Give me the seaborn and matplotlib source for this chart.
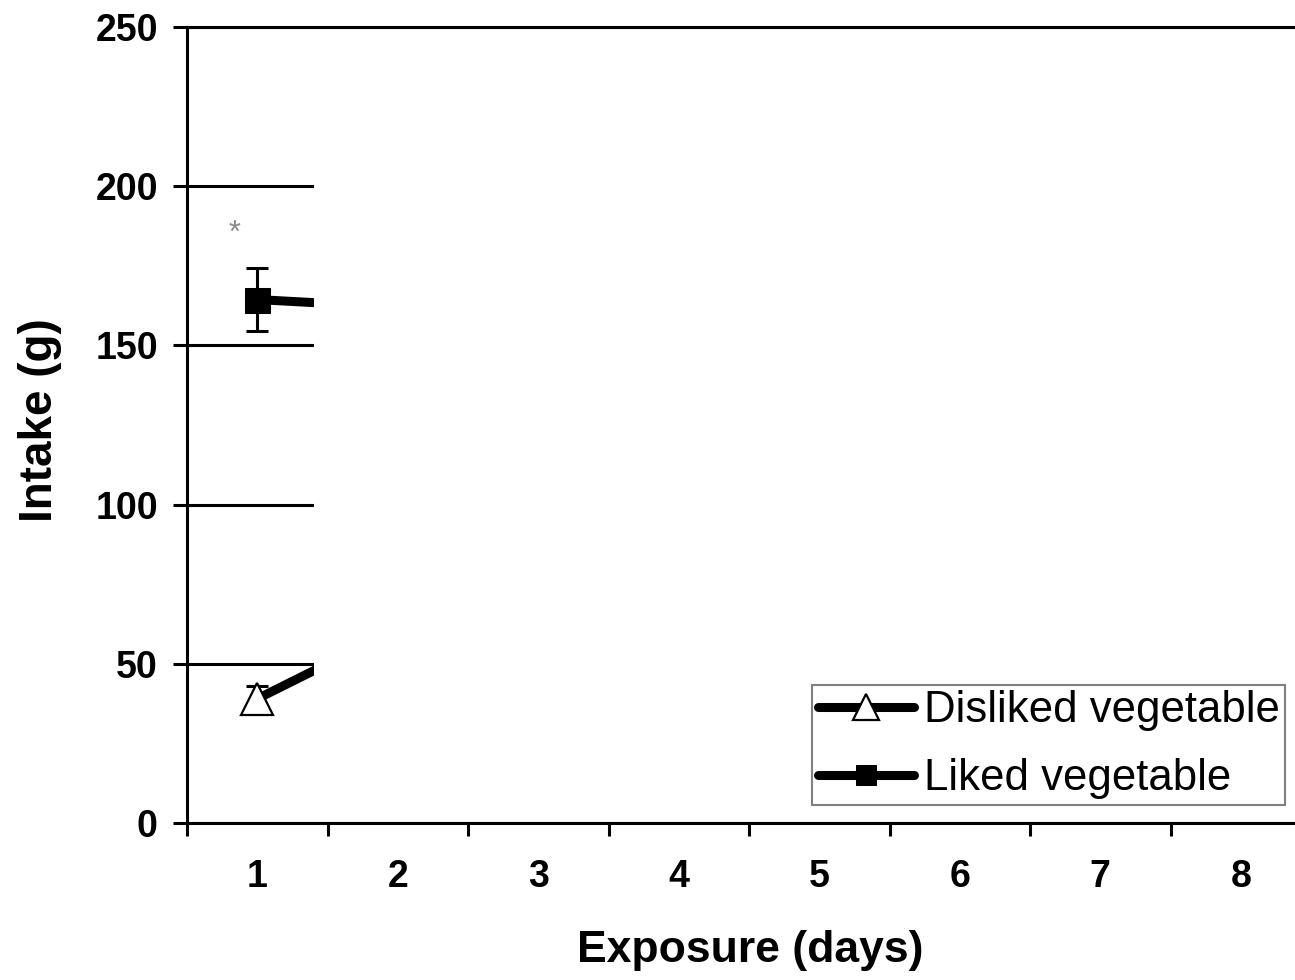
import matplotlib
matplotlib.use("Agg")
import matplotlib.pyplot as plt
import seaborn as sns
import pandas as pd
from matplotlib.patches import Rectangle

# ---- data (only day 1 and the start of the segment to day 2 are visible) ----
day_labels = ["1", "2", "3", "4", "5", "6", "7", "8"]
days = [1, 2]
disliked = [39, 61]
liked = [164.4, 162]
err_days = [1]
disliked_err = [4]
liked_err = [10]
y_ticks = [0, 50, 100, 150, 200, 250]

sns.set_style("white")
plt.rcParams["font.family"] = ["Liberation Sans", "DejaVu Sans"]
plt.rcParams["text.color"] = "black"
plt.rcParams["axes.labelcolor"] = "black"
plt.rcParams["xtick.color"] = "black"
plt.rcParams["ytick.color"] = "black"

fig = plt.figure(figsize=(12.95, 9.8), dpi=100)
ax = fig.add_axes([187 / 1295, 1 - 823 / 980, 1124 / 1295, 796 / 980])

df_dis = pd.DataFrame({"day": days, "intake": disliked})
df_lik = pd.DataFrame({"day": days, "intake": liked})

sns.lineplot(data=df_dis, x="day", y="intake", ax=ax, color="black", linewidth=6.5,
             marker="^", markersize=23, markerfacecolor="white", markeredgecolor="black",
             markeredgewidth=1.6, label="Disliked vegetable", zorder=3)
sns.lineplot(data=df_lik, x="day", y="intake", ax=ax, color="black", linewidth=6.5,
             marker="s", markersize=18, markerfacecolor="black", markeredgecolor="black",
             label="Liked vegetable", zorder=3)
ax.errorbar(err_days, [disliked[0]], yerr=disliked_err, fmt="none", ecolor="black",
            elinewidth=2.2, capsize=8, capthick=2.2, zorder=2.9)
ax.errorbar(err_days, [liked[0]], yerr=liked_err, fmt="none", ecolor="black",
            elinewidth=2.2, capsize=8, capthick=2.2, zorder=2.9)

# significance mark
ax.text(0.84, 182.5, "*", color="#8a8a8a", fontsize=22, ha="center", va="baseline", zorder=3)

ax.set_xlim(0.5, 8.5)
ax.set_ylim(0, 250)
ax.set_xticks(range(1, 9))
ax.set_xticklabels(day_labels)
ax.set_xticks([i + 0.5 for i in range(0, 9)], minor=True)
ax.set_yticks(y_ticks)
ax.set_yticklabels([str(v) for v in y_ticks])

ax.tick_params(axis="x", which="major", length=0, pad=26, labelsize=27, labelcolor="black")
ax.tick_params(axis="x", which="minor", length=9, width=2.2, color="black", direction="out", bottom=True)
ax.tick_params(axis="y", which="major", length=10, width=2.2, color="black", direction="out",
               pad=11, labelsize=27, left=True, labelcolor="black")
for lab in ax.get_xticklabels() + ax.get_yticklabels():
    lab.set_fontweight("bold")

ax.grid(axis="y", color="black", linewidth=2.2)
ax.grid(axis="x", visible=False)
for side in ["left", "bottom", "top"]:
    ax.spines[side].set_visible(True)
    ax.spines[side].set_color("black")
    ax.spines[side].set_linewidth(2.2)
ax.spines["right"].set_visible(False)

ax.set_xlabel("Exposure (days)", fontsize=32, fontweight="bold", color="black")
ax.set_ylabel("Intake (g)", fontsize=33, fontweight="bold", color="black")
ax.xaxis.set_label_coords(0.501, -0.134)
ax.yaxis.set_label_coords(-0.111, 0.506)

# white cover over most of the plot area (as in the reference)
ax.add_patch(Rectangle((1.406, 0.9), 8.0, 209.8, facecolor="white", edgecolor="none",
                       zorder=4, clip_on=True))

leg = ax.legend(loc="lower left", bbox_to_anchor=(812 / 1295, 1 - 805 / 980),
                bbox_transform=fig.transFigure, borderaxespad=0, fontsize=31.5,
                frameon=True, fancybox=False, framealpha=1, edgecolor="#808080",
                handlelength=2.2, handletextpad=0.22, labelspacing=0.62,
                borderpad=0.13, markerscale=0.8)
leg.get_frame().set_linewidth(1.5)
for t in leg.get_texts():
    t.set_color("black")
leg.set_zorder(6)

fig.savefig("out.png", dpi=100)
